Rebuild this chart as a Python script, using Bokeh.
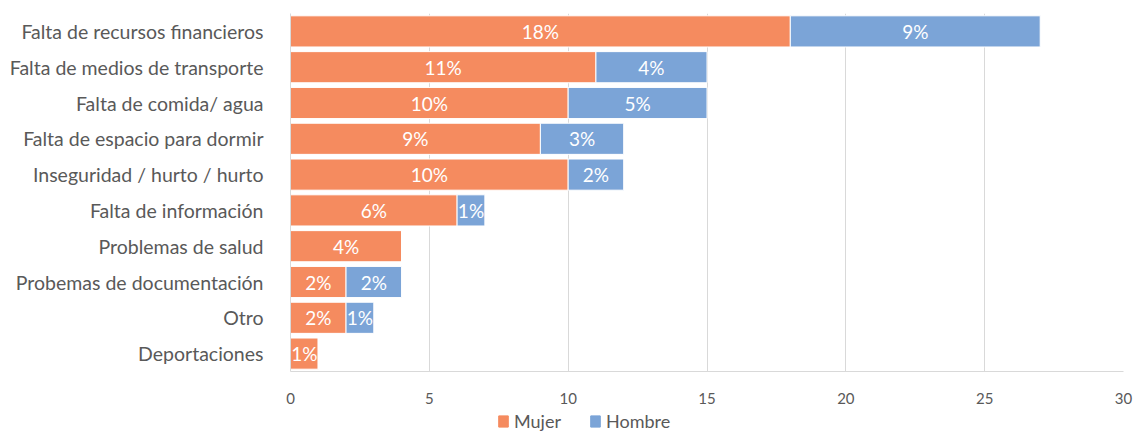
from bokeh.plotting import figure
from bokeh.layouts import column
from bokeh.models import Range1d, FactorRange, Legend, LegendItem, ColumnDataSource
from bokeh.core.properties import value
from bokeh.embed import file_html
from bokeh.resources import INLINE

categories = ["Falta de recursos financieros", "Falta de medios de transporte", "Falta de comida/ agua",
              "Falta de espacio para dormir", "Inseguridad / hurto / hurto", "Falta de información",
              "Problemas de salud", "Probemas de documentación", "Otro", "Deportaciones"]
mujer = [18, 11, 10, 9, 10, 6, 4, 2, 2, 1]
hombre = [9, 4, 5, 3, 2, 1, 0, 2, 1, 0]
series_names = ["Mujer", "Hombre"]
x_ticks = [0, 5, 10, 15, 20, 25, 30]

ORANGE = "#F58B5F"
BLUE = "#7BA4D7"
FONT = "Lato"
TXT = "#595959"

p = figure(width=1133, height=406, output_backend="svg", toolbar_location=None,
           x_range=Range1d(0, 30), y_range=FactorRange(*list(reversed(categories))),
           min_border_left=290, min_border_right=10, min_border_top=13, min_border_bottom=32)
p.outline_line_color = None

src = ColumnDataSource(dict(
    cat=categories,
    m=mujer,
    h_left=mujer,
    h_right=[a + b for a, b in zip(mujer, hombre)],
))
r1 = p.hbar(y="cat", left=0, right="m", height=0.87, source=src, fill_color=ORANGE, line_color="white", line_width=1)
r2 = p.hbar(y="cat", left="h_left", right="h_right", height=0.87, source=src, fill_color=BLUE, line_color="white", line_width=1)

# data labels
lab_x, lab_y, lab_t = [], [], []
for c, a, b in zip(categories, mujer, hombre):
    if a > 0:
        lab_x.append(a / 2); lab_y.append(c); lab_t.append(f"{a}%")
    if b > 0:
        lab_x.append(a + b / 2); lab_y.append(c); lab_t.append(f"{b}%")
p.text(x=lab_x, y=lab_y, text=lab_t, text_align="center", text_baseline="middle",
       text_color="white", text_font=value(FONT), text_font_size="19px")

# axes
p.xaxis.ticker = x_ticks
p.xaxis.axis_line_color = "#D9D9D9"
p.xaxis.major_tick_line_color = None
p.xaxis.minor_tick_line_color = None
p.xaxis.major_label_text_font = FONT
p.xaxis.major_label_text_font_size = "15px"
p.xaxis.major_label_text_color = TXT
p.xaxis.major_label_standoff = 15

p.yaxis.axis_line_color = "#D9D9D9"
p.yaxis.major_tick_line_color = None
p.yaxis.minor_tick_line_color = None
p.yaxis.major_label_text_font = FONT
p.yaxis.major_label_text_font_size = "19.5px"
p.yaxis.major_label_text_color = TXT
p.yaxis.major_label_standoff = 21

p.xgrid.grid_line_color = "#D9D9D9"
p.ygrid.grid_line_color = None

# legend strip below the chart (its frame lines up with the chart's frame)
lg = figure(width=1133, height=26, output_backend="svg", toolbar_location=None,
            x_range=Range1d(0, 1), y_range=Range1d(0, 1), x_axis_type=None, y_axis_type=None,
            min_border=0, min_border_left=0, min_border_right=0, min_border_top=0, min_border_bottom=0)
lg.outline_line_color = None
lg.grid.grid_line_color = None
k1 = lg.hbar(y=[0.5], left=[0], right=[1], height=1, fill_color=ORANGE, line_color=ORANGE, line_width=1, visible=False)
k2 = lg.hbar(y=[0.5], left=[0], right=[1], height=1, fill_color=BLUE, line_color=BLUE, line_width=1, visible=False)
legend = Legend(items=[LegendItem(label=series_names[0], renderers=[k1]),
                       LegendItem(label=series_names[1], renderers=[k2])],
                location=(207, 0), orientation="horizontal",
                border_line_color=None, background_fill_alpha=0,
                glyph_width=12, glyph_height=14, label_standoff=5, spacing=28,
                padding=0, margin=0, label_height=20,
                label_text_font=FONT, label_text_font_size="18px", label_text_color=TXT)
lg.add_layout(legend)

page = column(p, lg, spacing=0)
open("out.html", "w").write(file_html(page, INLINE))
